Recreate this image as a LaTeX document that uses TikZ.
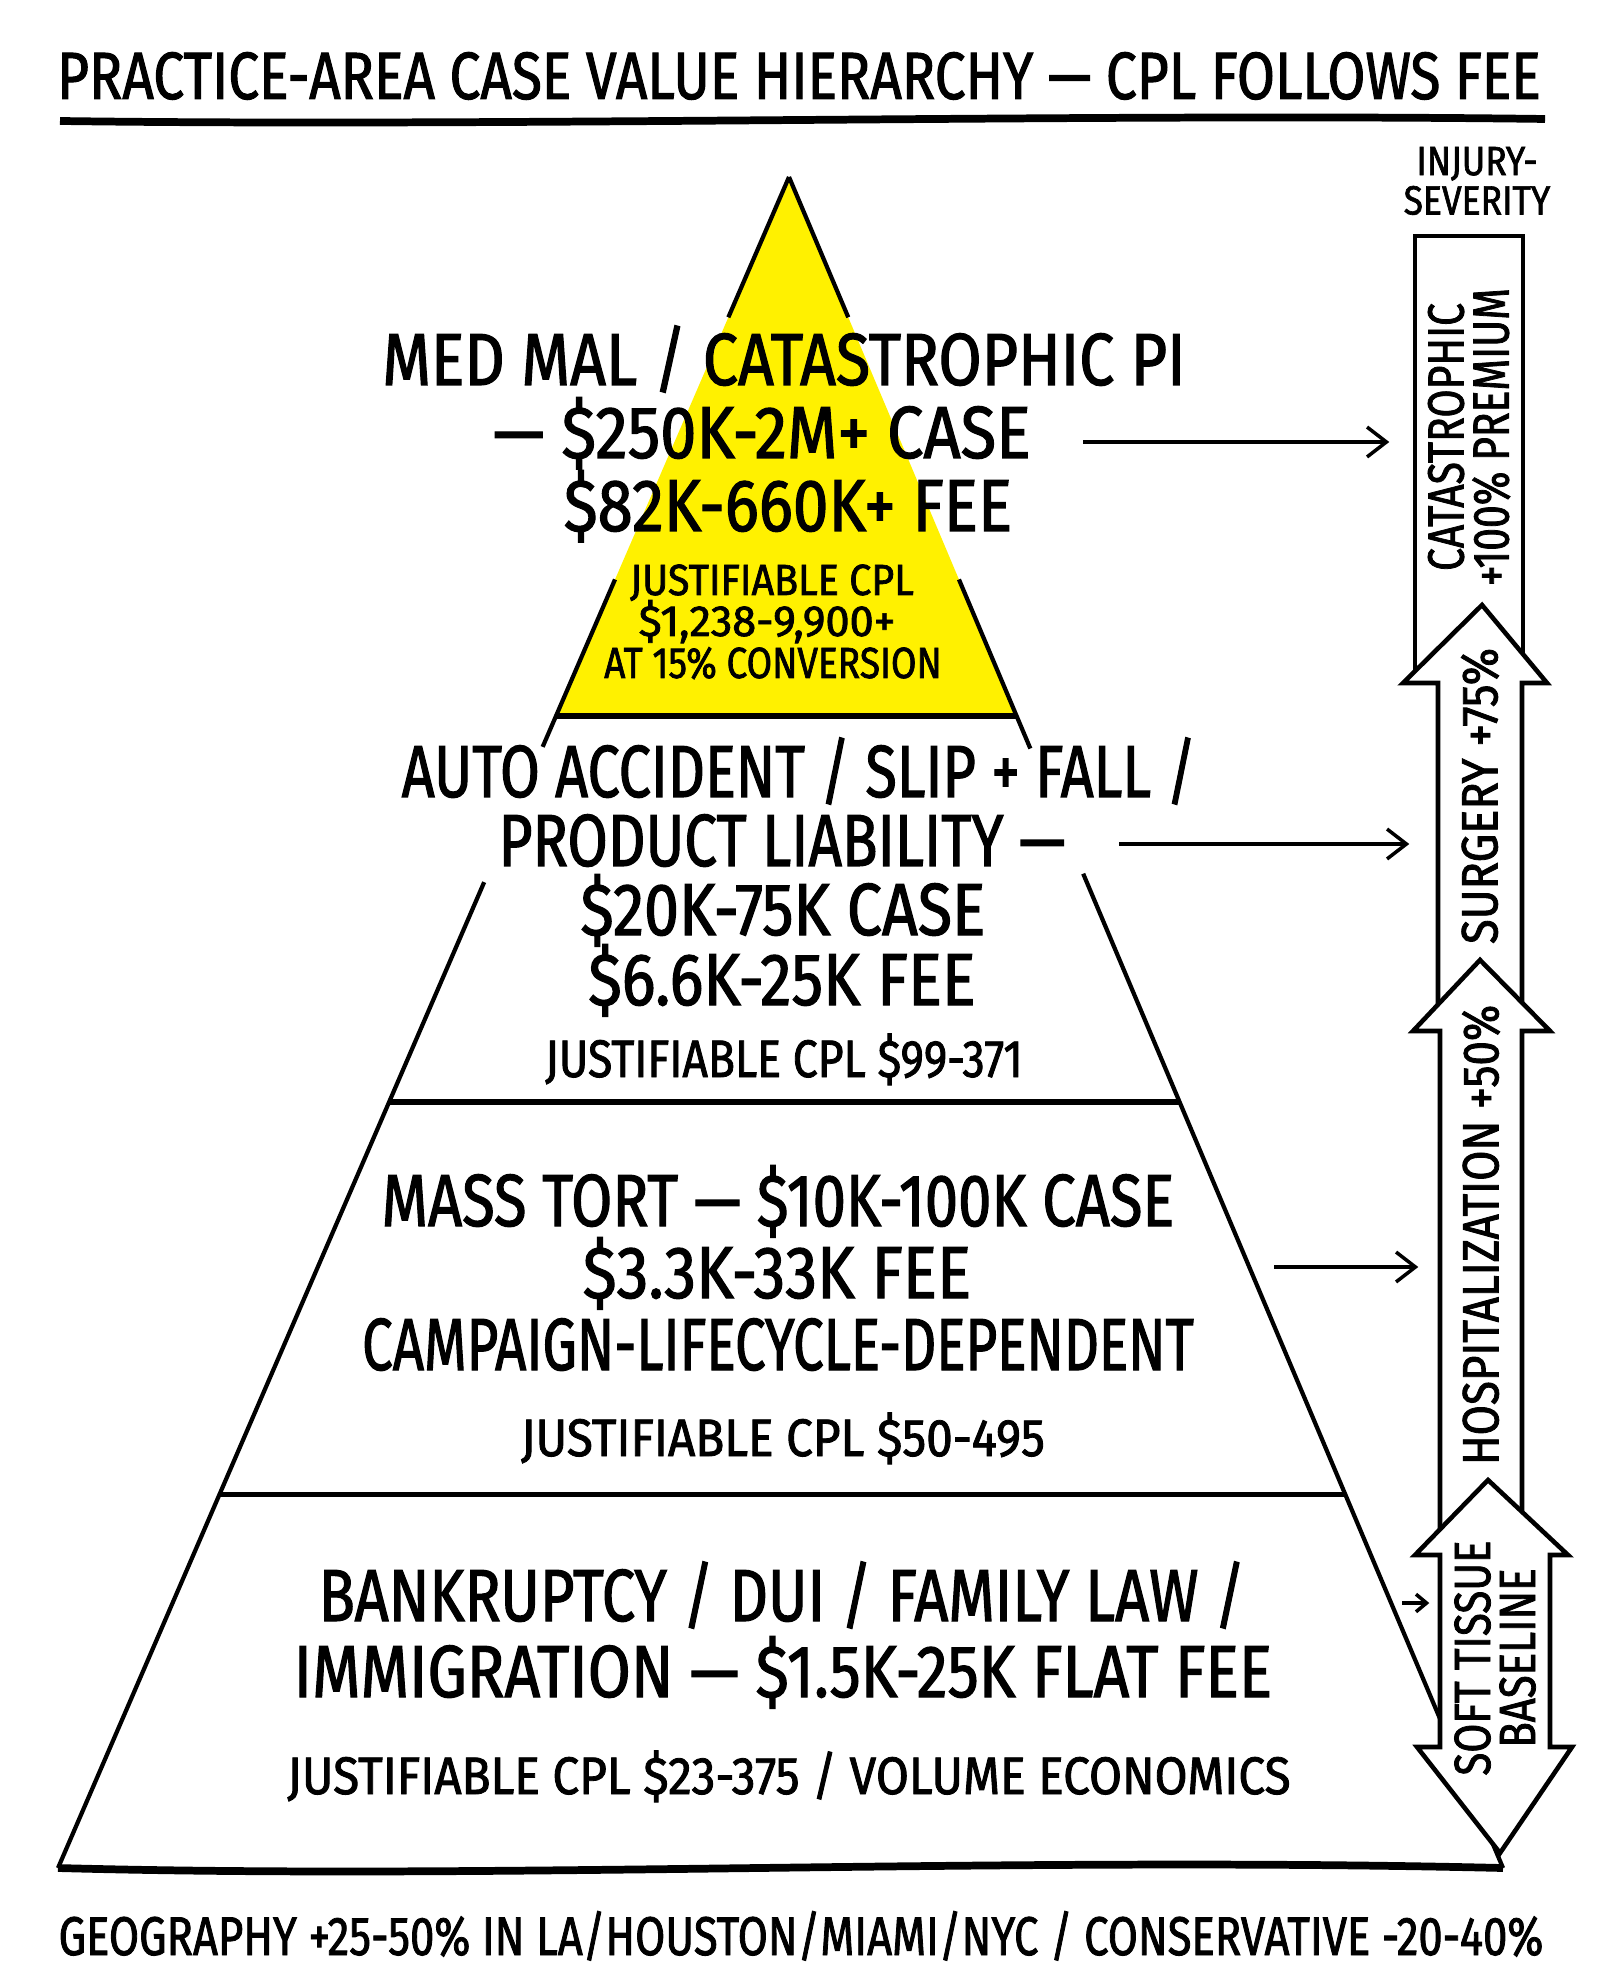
\documentclass[tikz,border=0pt]{standalone}
\usepackage{fontspec}
\setmainfont{Fira Sans}[FakeStretch=0.8,FakeBold=1.5]
\usetikzlibrary{arrows.meta,calc}
\definecolor{pyryellow}{RGB}{255,241,0}
\tikzset{
  >={Straight Barb[length=5.5pt,width=8.5pt]},
  line cap=round,
  line join=round,
}

\begin{document}
\begin{tikzpicture}[
  x=0.01cm, y=-0.01cm,
  edge/.style={line width=1.2pt},
  divider/.style={line width=1.5pt},
  ground/.style={line width=2.2pt},
  band/.style={draw, line width=1.3pt, fill=white},
  link/.style={->, line width=1pt},
  txt/.style={anchor=base, inner sep=0pt},
  bigtxt/.style={txt, font=\fontsize{21}{21}\selectfont},
  cpltxt/.style={txt, font=\fontsize{15}{15}\selectfont},
  toptxt/.style={txt, font=\fontsize{12.4}{12.4}\selectfont},
  sidetxt/.style={rotate=90, align=center, inner sep=0pt, font=\fontsize{14.5}{12.8}\selectfont},
]
\useasboundingbox (0,0) rectangle (1600,1986);
\fill[white] (0,0) rectangle (1600,1986);

% title
\node[txt, font=\fontsize{19}{19}\selectfont] (title) at (799,99) {\scalebox{1.03}[1]{PRACTICE-AREA CASE VALUE HIERARCHY — CPL FOLLOWS FEE}};
\draw[ground] (60,121) .. controls (500,127) and (1100,113) .. (1545,119);

% pyramid
\coordinate (apex) at (789,177);
\coordinate (bl) at (58,1868);
\coordinate (br) at (1503,1868);
\coordinate (yl) at ($(apex)!0.3187!(bl)$);
\coordinate (yr) at ($(apex)!0.3187!(br)$);
\fill[pyryellow] (apex) -- (yl) -- (yr) -- cycle;

% sides, broken where the labels run over them
\draw[edge] (apex) -- ($(apex)!0.083!(bl)$);
\draw[edge] ($(apex)!0.238!(bl)$) -- ($(apex)!0.337!(bl)$);
\draw[edge] ($(apex)!0.417!(bl)$) -- (bl);
\draw[edge] (apex) -- ($(apex)!0.083!(br)$);
\draw[edge] ($(apex)!0.238!(br)$) -- ($(apex)!0.338!(br)$);
\draw[edge] ($(apex)!0.412!(br)$) -- (br);

\draw[divider] (yl) -- (yr);
\draw[divider] ($(apex)!0.547!(bl)$) -- ($(apex)!0.547!(br)$);
\draw[divider] ($(apex)!0.779!(bl)$) -- ($(apex)!0.779!(br)$);
\draw[ground] (bl) .. controls (500,1880) and (1000,1856) .. (br);

% level 1
\node[bigtxt] (medmal) at (784,385) {\scalebox{1.06}[1]{MED MAL / CATASTROPHIC PI}};
\node[bigtxt] (case1) at (762,458) {\scalebox{1.10}[1]{— \$250K-2M+ CASE}};
\node[bigtxt] (fee1) at (788,531) {\scalebox{1.08}[1]{\$82K-660K+ FEE}};
\node[toptxt] (cpl1a) at (772,595) {\scalebox{1.13}[1]{JUSTIFIABLE CPL}};
\node[toptxt] (cpl1b) at (767,636) {\scalebox{1.24}[1]{\$1,238-9,900+}};
\node[toptxt] (cpl1c) at (773,678) {\scalebox{1.06}[1]{AT 15\% CONVERSION}};

% level 2
\node[bigtxt] (auto) at (799,797) {\scalebox{0.975}[1]{AUTO ACCIDENT / SLIP + FALL /}};
\node[bigtxt] (product) at (782,866) {\scalebox{0.99}[1]{PRODUCT LIABILITY —}};
\node[bigtxt] (case2) at (783,935) {\scalebox{1.06}[1]{\$20K-75K CASE}};
\node[bigtxt] (fee2) at (782,1005) {\scalebox{1.07}[1]{\$6.6K-25K FEE}};
\node[cpltxt] (cpl2) at (784,1077) {\scalebox{1.055}[1]{JUSTIFIABLE CPL \$99-371}};

% level 3
\node[bigtxt] (masstort) at (778,1226) {\scalebox{1.01}[1]{MASS TORT — \$10K-100K CASE}};
\node[bigtxt] (fee3) at (777,1298) {\scalebox{1.08}[1]{\$3.3K-33K FEE}};
\node[bigtxt] (campaign) at (778,1370) {\scalebox{0.925}[1]{CAMPAIGN-LIFECYCLE-DEPENDENT}};
\node[cpltxt] (cpl3) at (783,1456) {\scalebox{1.13}[1]{JUSTIFIABLE CPL \$50-495}};

% level 4
\node[bigtxt] (bankruptcy) at (782,1621) {\scalebox{1.01}[1]{BANKRUPTCY / DUI / FAMILY LAW /}};
\node[bigtxt] (immigration) at (783,1697) {\scalebox{1.055}[1]{IMMIGRATION — \$1.5K-25K FLAT FEE}};
\node[cpltxt] (cpl4) at (789,1794) {\scalebox{1.13}[1]{JUSTIFIABLE CPL \$23-375 / VOLUME ECONOMICS}};

% severity column
\node[align=center, inner sep=0pt, font=\fontsize{11.6}{11.2}\selectfont] (severityhead) at (1477,181)
  {\scalebox{1.086}[1]{INJURY-}\\\scalebox{1.086}[1]{SEVERITY}};

\draw[band] (1415,680) -- (1415,236) -- (1523,236) -- (1523,662);
\draw[band] (1438,1012) -- (1438,683) -- (1403,683) -- (1482,605) -- (1547,683) -- (1522,683) -- (1522,1010);
\draw[band] (1440,1535) -- (1440,1031) -- (1413,1031) -- (1480,960) -- (1550,1031) -- (1522,1031) -- (1522,1520);
\draw[band] (1440,1555) -- (1415,1555) -- (1488,1480) -- (1568,1555) -- (1550,1555) -- (1550,1747)
  -- (1572,1747) -- (1500,1853) -- (1417,1747) -- (1440,1747) -- cycle;

\node[sidetxt, minimum height=1.08cm] (cat) at (1469,437) {CATASTROPHIC\\+100\% PREMIUM};
\node[sidetxt, minimum height=0.84cm] (surgery) at (1480,796) {\scalebox{1.11}[1]{SURGERY +75\%}};
\node[sidetxt, minimum height=0.82cm] (hosp) at (1481,1235) {\scalebox{1.075}[1]{HOSPITALIZATION +50\%}};
\node[sidetxt, minimum height=1.10cm] (soft) at (1495,1658) {\scalebox{1.03}[1]{SOFT TISSUE}\\\scalebox{1.03}[1]{BASELINE}};

% level to severity links
\coordinate (from1) at (1083,442);
\coordinate (from2) at (1119,844);
\coordinate (from3) at (1274,1267);
\coordinate (from4) at (1402,1603);
\draw[link, shorten >=0.25cm] (from1) -- (from1 -| cat.north);
\draw[link, shorten >=0.28cm] (from2) -- (from2 -| surgery.north);
\draw[link, shorten >=0.21cm] (from3) -- (from3 -| hosp.north);
\draw[link, shorten >=0.10cm, -{Straight Barb[length=3pt,width=5pt]}] (from4) -- (from4 -| soft.north);

% footer
\node[txt, font=\fontsize{15.5}{15.5}\selectfont] (geo) at (801,1955) {GEOGRAPHY +25-50\% IN LA/HOUSTON/MIAMI/NYC / CONSERVATIVE -20-40\%};
\end{tikzpicture}
\end{document}
